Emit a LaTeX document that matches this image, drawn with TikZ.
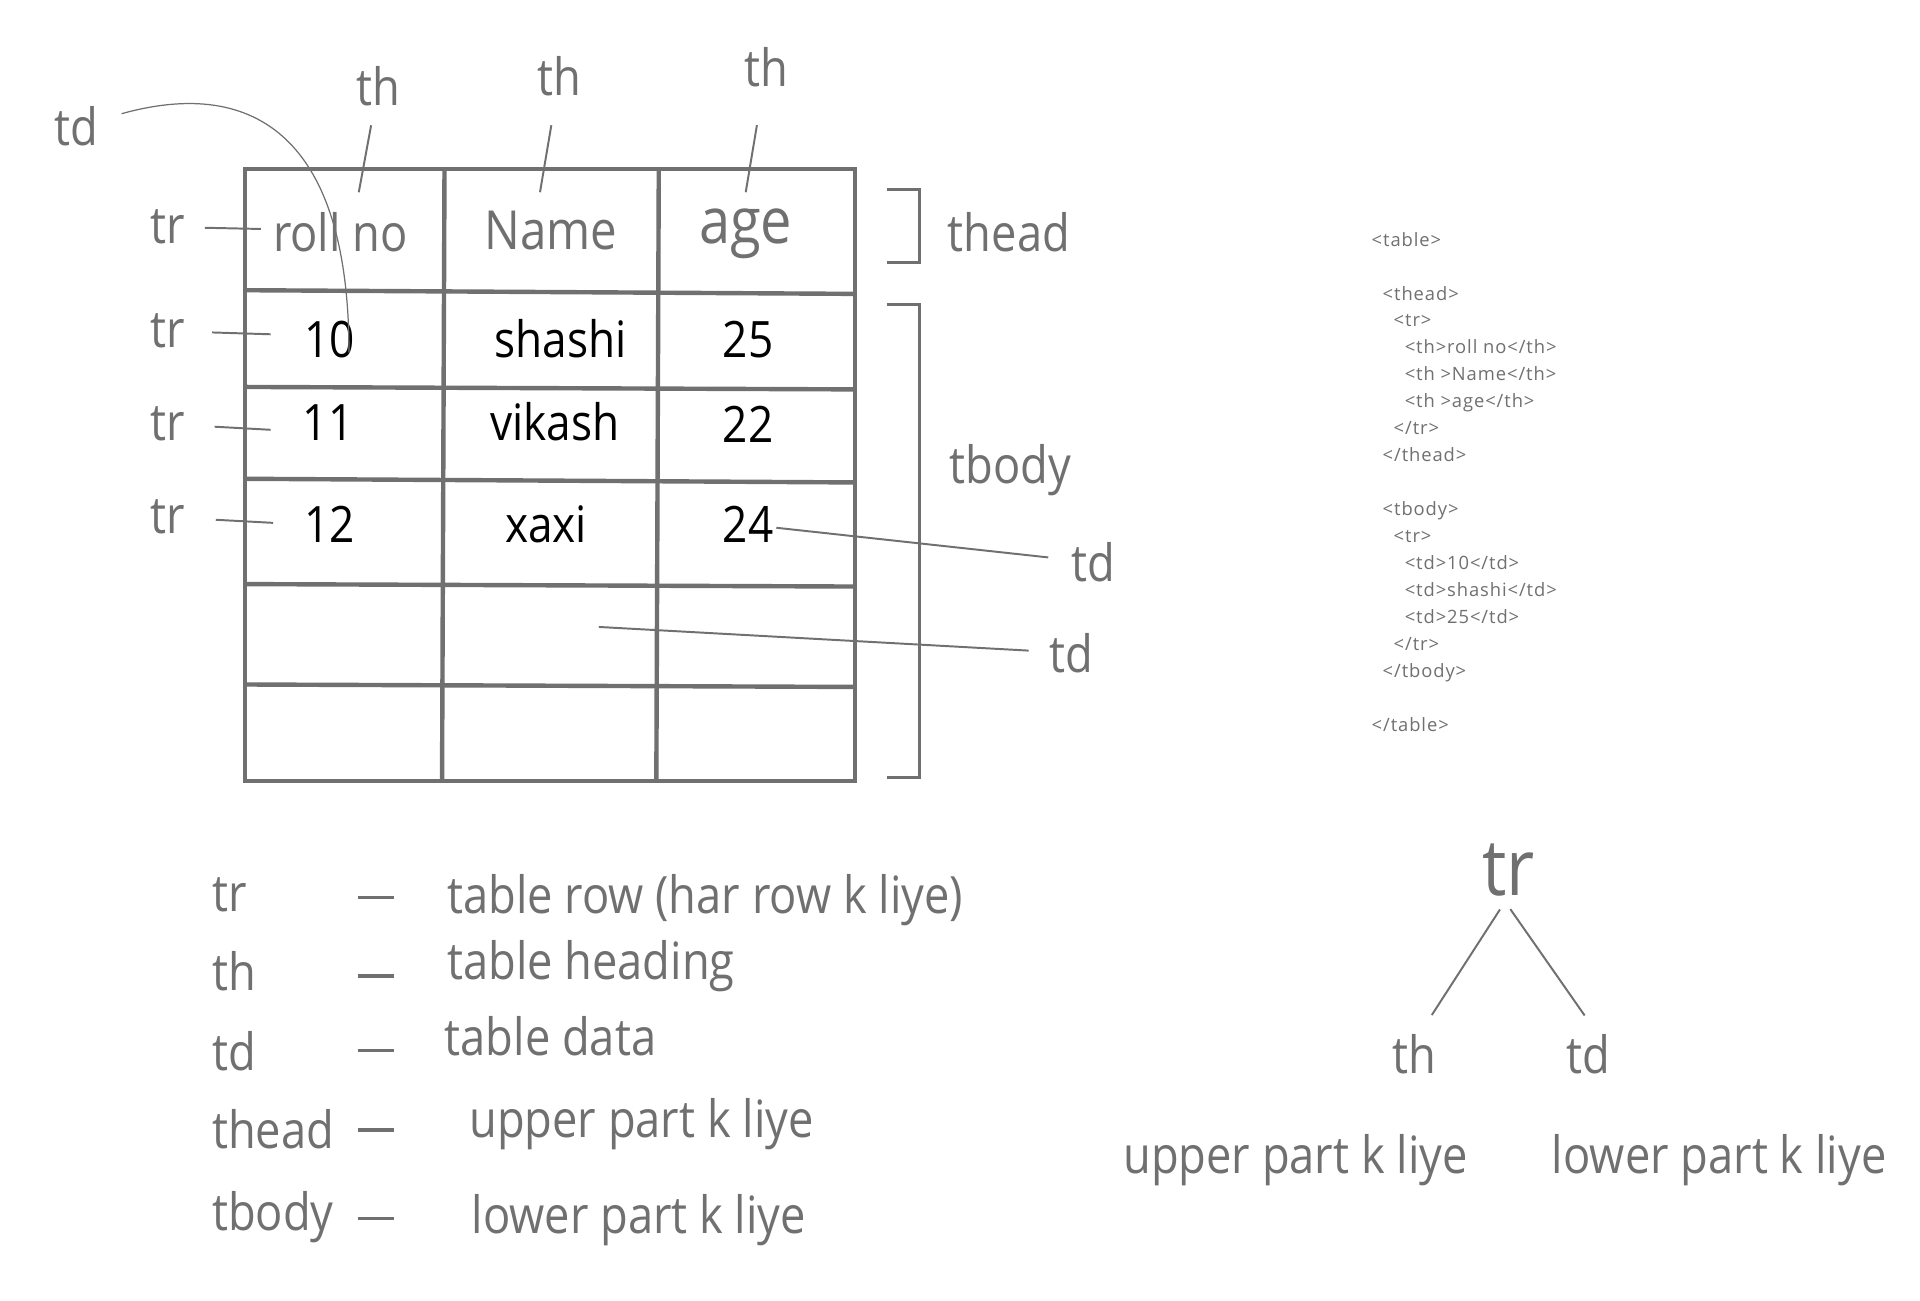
\documentclass[tikz,border=0pt]{standalone}
\usepackage{fontspec}
\setmainfont[FakeStretch=0.88]{Open Sans}
\newfontfamily\codefont[LetterSpace=5]{Open Sans}
\usetikzlibrary{
    positioning% wg. " of "
}
\definecolor{ink}{RGB}{112,112,112}

\begin{document}
\begin{tikzpicture}[x=1pt,y=-1pt,
    lbl/.style={text=ink,font=\fontsize{42}{50}\selectfont,inner sep=0pt,anchor=base},
    head/.style={text=ink,font=\fontsize{42}{50}\selectfont,inner sep=0pt,anchor=base},
    cell/.style={text=black,font=\fontsize{41}{48}\selectfont,inner sep=0pt,anchor=base},
    code/.style={text=ink,font=\codefont\fontsize{15}{18}\selectfont,inner sep=0pt,anchor=base west},
    grid/.style={draw=ink,line width=3.6pt},
    pointer/.style={draw=ink,line width=1.6pt},
    bracket/.style={draw=ink,line width=2.4pt},
    legdash/.style={draw=ink,line width=3pt}]

    \useasboundingbox[fill=white] (0,0) rectangle (1568,1062);

    %%% the table
    \draw[grid] (200,138) rectangle (698,638);
    \draw[grid] (200,237) -- (698,240);
    \draw[grid] (200,316) -- (698,318);
    \draw[grid] (200,391) -- (698,394);
    \draw[grid] (200,477) -- (698,479);
    \draw[grid] (200,559) -- (698,561);
    \draw[grid] (363,138) -- (361,638);
    \draw[grid] (538,138) -- (536,638);

    %%% header cells
    \node[head] (hRoll) at (278,205) {roll no};
    \node[head,font=\fontsize{44}{50}\selectfont] (hName) at (450,204) {Name};
    \node[head,font=\fontsize{52}{58}\selectfont] (hAge) at (609,199) {age};

    %%% body cells
    \node[cell] (cTen) at (269,292) {10};
    \node[cell] (cShashi) at (458,292) {shashi};
    \node[cell] (cTwentyFive) at (611,292) {25};
    \node[cell] (cEleven) at (268,360) {11};
    \node[cell] (cVikash) at (453,360) {vikash};
    \node[cell] (cTwentyTwo) at (611,361) {22};
    \node[cell] (cTwelve) at (269,443) {12};
    \node[cell] (cXaxi) at (446,443) {xaxi};
    \node[cell] (cTwentyFour) at (611,443) {24};

    %%% th labels
    \node[lbl] (thA) at (309,86) {th};
    \node[lbl] (thB) at (457,78) {th};
    \node[lbl] (thC) at (626,71) {th};
    \coordinate (thAend) at (293,157);
    \coordinate (thBend) at (441,157);
    \coordinate (thCend) at (609,157);
    \draw[pointer,shorten <=16pt] (thA) -- (thAend);
    \draw[pointer,shorten <=24pt] (thB) -- (thBend);
    \draw[pointer,shorten <=31pt] (thC) -- (thCend);

    %%% td curve into the first cell
    \node[lbl] (tdTop) at (62,119) {td};
    \coordinate (tenEnd) at (285,288);
    \draw[draw=ink,line width=1pt,shorten <=20pt] (tdTop)
    .. controls (210,62) and (285,115) .. (tenEnd);

    %%% tr labels
    \node[lbl] (trA) at (137,199) {tr};
    \node[lbl] (trB) at (137,284) {tr};
    \node[lbl] (trC) at (137,360) {tr};
    \node[lbl] (trD) at (137,436) {tr};
    \coordinate (trAend) at (213,187);
    \coordinate (trBend) at (221,273);
    \coordinate (trCend) at (221,351);
    \coordinate (trDend) at (223,427);
    \draw[pointer,shorten <=16pt] (trA) -- (trAend);
    \draw[pointer,shorten <=22pt] (trB) -- (trBend);
    \draw[pointer,shorten <=24pt] (trC) -- (trCend);
    \draw[pointer,shorten <=25pt] (trD) -- (trDend);

    %%% thead and tbody brackets
    \draw[bracket] (724,155) -- (751,155) -- (751,214) -- (724,214);
    \draw[bracket] (724,249) -- (751,249) -- (751,635) -- (724,635);
    \node[lbl] (thead) at (824,205) {thead};
    \node[lbl] (tbody) at (825,395) {tbody};

    %%% td pointers on the right
    \node[lbl] (tdR) at (893,475) {td};
    \node[lbl] (tdS) at (875,549) {td};
    \coordinate (fourStart) at (634,431);
    \coordinate (emptyStart) at (489,512);
    \draw[pointer,shorten >=19pt] (fourStart) -- (tdR);
    \draw[pointer,shorten >=17pt] (emptyStart) -- (tdS);

    %%% html source
    \foreach \i/\dx/\txt in {0/0/{<table>}, 2/9/{<thead>}, 3/18/{<tr>},
        4/27/{<th>roll no</th>}, 5/27/{<th >Name</th>}, 6/27/{<th >age</th>},
        7/18/{</tr>}, 8/9/{</thead>}, 10/9/{<tbody>}, 11/18/{<tr>},
        12/27/{<td>10</td>}, 13/27/{<td>shashi</td>}, 14/27/{<td>25</td>},
        15/18/{</tr>}, 16/9/{</tbody>}, 18/0/{</table>}}
        \node[code] (src\i) at (1120+\dx,201+22*\i) {\txt};

    %%% legend
    \node[lbl,anchor=base west] (kTr) at (173,744) {tr};
    \node[lbl,anchor=base west] (kTh) at (173,809) {th};
    \node[lbl,anchor=base west] (kTd) at (173,874) {td};
    \node[lbl,anchor=base west] (kThead) at (173,938) {thead};
    \node[lbl,anchor=base west] (kTbody) at (173,1005) {tbody};
    \draw[legdash] (292,733) -- (322,733);
    \draw[legdash] (292,797) -- (322,797);
    \draw[legdash] (292,858) -- (322,858);
    \draw[legdash] (292,923) -- (322,923);
    \draw[legdash] (292,995) -- (322,995);
    \node[lbl,anchor=base west] (vTr) at (365,746) {table row (har row k liye)};
    \node[lbl,anchor=base west] (vTh) at (365,800) {table heading};
    \node[lbl,anchor=base west] (vTd) at (363,862) {table data};
    \node[lbl,anchor=base west] (vThead) at (383,929) {upper part k liye};
    \node[lbl,anchor=base west] (vTbody) at (385,1007) {lower part k liye};

    %%% tr splits into th and td
    \node[lbl,font=\fontsize{64}{70}\selectfont] (trBig) at (1232,731) {tr};
    \node[lbl] (thT) at (1155,877) {th};
    \node[lbl] (tdT) at (1297,877) {td};
    \node[lbl] (upT) at (1058,958) {upper part k liye};
    \node[lbl] (lowT) at (1404,958) {lower part k liye};
    \draw[pointer,shorten <=13pt,shorten >=19pt] (trBig.south) -- ([xshift=4pt]thT.north);
    \draw[pointer,shorten <=13pt,shorten >=19pt] ([xshift=-6pt]trBig.south) -- ([xshift=8pt]tdT.north);
\end{tikzpicture}
\end{document}
